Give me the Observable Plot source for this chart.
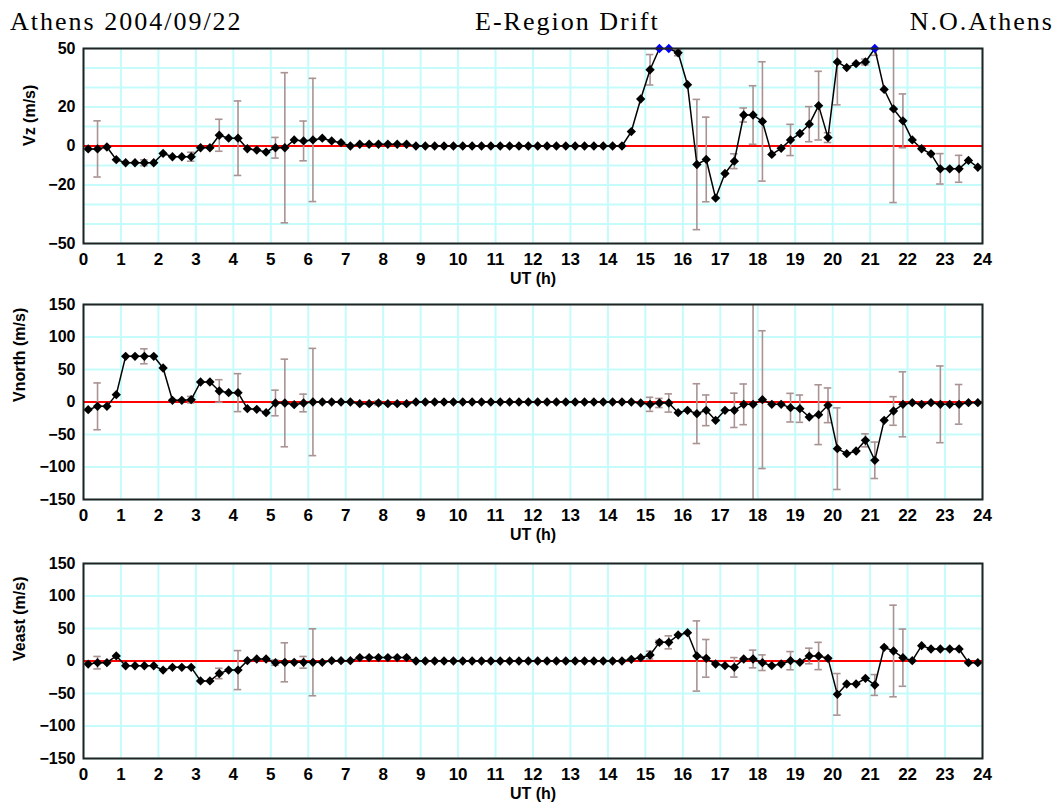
<!DOCTYPE html>
<html><head><meta charset="utf-8">
<script src="https://cdn.jsdelivr.net/npm/d3@7"></script>
<script src="https://cdn.jsdelivr.net/npm/@observablehq/plot@0.6"></script>
<style>
html,body{margin:0;padding:0;background:#fff}
body{width:1055px;height:809px;position:relative;overflow:hidden}
.t{position:absolute;top:9px;font-family:"Liberation Serif","Times New Roman",serif;font-size:26px;line-height:26px;letter-spacing:2px;color:#000;white-space:nowrap}
.p{position:absolute;left:0}
.p svg{display:block}
</style></head><body>
<div class="t" style="left:10px">Athens 2004/09/22</div>
<div class="t" style="left:475px">E-Region Drift</div>
<div class="t" style="right:1px">N.O.Athens</div>
<div id="p1" class="p" style="top:38px"></div>
<div id="p2" class="p" style="top:294px"></div>
<div id="p3" class="p" style="top:553px"></div>
<script>
// UT times of the soundings (h)
const times = [0.125,0.375,0.625,0.875,1.125,1.375,1.625,1.875,2.125,2.375,2.625,2.875,
3.125,3.375,3.625,3.875,4.125,4.375,4.625,4.875,5.125,5.375,5.625,5.875,
6.125,6.375,6.625,6.875,7.125,7.375,7.625,7.875,8.125,8.375,8.625,8.875,
9.125,9.375,9.625,9.875,10.125,10.375,10.625,10.875,11.125,11.375,11.625,11.875,
12.125,12.375,12.625,12.875,13.125,13.375,13.625,13.875,14.125,14.375,14.625,14.875,
15.125,15.375,15.625,15.875,16.125,16.375,16.625,16.875,17.125,17.375,17.625,17.875,
18.125,18.375,18.625,18.875,19.125,19.375,19.625,19.875,20.125,20.375,20.625,20.875,
21.125,21.375,21.625,21.875,22.125,22.375,22.625,22.875,23.125,23.375,23.625,23.875];

const vz = [-1.5,-1.5,-0.5,-7,-8.6,-8.6,-8.6,-8.6,-3.8,-5.5,-5.5,-5.5,
-0.9,-0.9,5.5,4,4,-1.4,-2.1,-3.1,-0.9,-0.9,3.1,2.6,
3.1,4,2.6,1.7,0,0.9,0.9,0.9,0.9,0.9,0.9,0,
0,0,0,0,0,0,0,0,0,0,0,0,
0,0,0,0,0,0,0,0,0,0,7.4,24.1,
39.1,50,50,47.8,31.4,-9.5,-6.9,-26.7,-14.1,-7.8,15.9,15.9,
12.6,-4.3,-1.2,3.1,6.4,11.2,20.7,4.3,43.1,40.2,42.2,43.1,
50,29,19,12.9,3.1,-1.4,-4,-11.7,-11.7,-11.7,-7.4,-10.9];
const vzErr = [0,14.4,0,0,0,0,1.5,0,0,0,0,2.3,
0,0,8.2,0,19.1,0,0,0,5.3,38.5,0,10.2,
31.6,0,0,0,0,0,0,0,0,0,0,0,
0,0,0,0,0,0,0,0,0,0,0,0,
0,0,0,0,0,0,0,0,0,0,0,0,
7.8,0,0,1.5,0,33.4,21.7,0,0,3.8,3.6,15,
30.6,0,0,8,0,9,17.6,2.5,22,0,0,1.5,
3.5,0,48,13.8,0,0,0,7.8,0,6.9,0,0];

const vnorth = [-11.8,-6.7,-6.7,11.3,70.3,70.3,70.3,70.3,52.3,2.6,2.6,3.6,
30.8,30.8,16.9,14.4,14.4,-10.3,-11.3,-16.4,-1.5,-1.5,-4.1,-1.5,
0,0,0,0,0,-2.6,-2.6,-1.5,-2.6,-2.6,-2.6,0,
0,0,0,0,0,0,0,0,0,0,0,0,
0,0,0,0,0,0,0,0,0,0,0,-1.5,
-3.6,-1.5,-1.5,-16.4,-12.8,-17.9,-12.8,-28.2,-12.8,-12.8,-3.6,-3.6,
3.6,-3.6,-3.6,-8.7,-10.3,-23.1,-19.5,-5.1,-71.8,-79.5,-75.4,-59,
-89.7,-28.2,-13.8,-3.6,-1,-3.6,-1,-3.6,-3.6,-3.6,-1,-1];
const vnorthErr = [0,36,0,0,0,0,11.5,0,0,0,0,5,
0,0,17.4,0,29.2,0,0,0,19.7,67.4,0,13.6,
82.5,0,0,0,0,0,0,3,0,0,0,0,
0,0,0,0,0,0,0,0,0,0,0,0,
0,0,0,0,0,0,0,0,0,0,0,0,
10.8,7,14,0,0,46,23.6,0,0,26.4,31.3,300,
106,0,0,22,21,0,46,26.7,62.8,0,0,10,
28,0,22,50,0,0,0,59,0,30.5,0,0];

const veast = [-4.7,-2.6,-2.6,7.8,-7.3,-7.3,-7.3,-7.3,-14,-9.8,-9.8,-9.8,
-30.6,-30.6,-19.2,-14,-14,0.5,3.1,3.1,-2.6,-2,-2,-2,
-2,-2,0.5,0.5,0.5,5.2,5.2,5.2,5.2,5.2,5.2,0,
0,0,0,0,0,0,0,0,0,0,0,0,
0,0,0,0,0,0,0,0,0,0,2.6,5.1,
9.2,28.7,28.7,40,43.6,7.7,4.1,-4.6,-7.2,-9.7,3.1,3.1,
-2.6,-7.2,-4.6,0.5,-2,7.7,7.7,4.1,-51.3,-35.4,-35.4,-26.7,
-36.9,21,15.4,5.1,0.5,23.6,18.5,18.5,18.5,18.5,-2.6,-2.6];
const veastErr = [0,9.6,0,0,0,0,0,0,0,0,0,0,
0,0,8,0,30,0,0,0,4,30,0,9,
51.5,0,0,0,0,0,0,0,0,0,0,0,
0,0,0,0,0,0,0,0,0,0,0,0,
0,0,0,0,0,0,0,0,0,0,0,0,
6,3,10,0,0,54,29,0,0,15,0,13.6,
12,0,0,14,0,12,21,0,32,0,0,0,
16,0,70.5,44,0,0,0,0,0,0,0,0];

const xTicks = [0,1,2,3,4,5,6,7,8,9,10,11,12,13,14,15,16,17,18,19,20,21,22,23,24];
const vzGrid = [-50,-40,-30,-20,-10,0,10,20,30,40,50];
const vzTicks = [-50,-20,0,20,50];
const hGrid = [-150,-100,-50,0,50,100,150];
const hTicks = [-150,-100,-50,0,50,100,150];

function panel(values, errs, domain, gridY, ticksY, title, titleDx, height) {
  const rows = times.map((t, i) => ({t, v: values[i], e: errs[i]}));
  const bars = rows.filter(d => d.e > 0);
  const top = domain[1];
  const errColor = "#a99393";
  return Plot.plot({
    width: 1055, height, marginLeft: 83, marginRight: 73, marginTop: 10, marginBottom: height - 205,
    style: {fontFamily: "'Liberation Sans', Arial, sans-serif", background: "transparent", overflow: "visible"},
    x: {domain: [0, 24], axis: null},
    y: {domain, axis: null},
    marks: [
      Plot.gridX(xTicks, {stroke: "#c6fbfb", strokeOpacity: 1, strokeWidth: 2}),
      Plot.gridY(gridY, {stroke: "#c6fbfb", strokeOpacity: 1, strokeWidth: 2}),
      Plot.ruleY([0], {stroke: "#ff0000", strokeWidth: 2}),
      Plot.ruleX(bars, {x: "t", y1: d => d.v - d.e, y2: d => d.v + d.e, stroke: errColor, strokeWidth: 1.6, clip: true}),
      Plot.ruleY(bars, {y: d => d.v + d.e, x1: d => d.t - 0.1, x2: d => d.t + 0.1, stroke: errColor, strokeWidth: 1.6, clip: true}),
      Plot.ruleY(bars, {y: d => d.v - d.e, x1: d => d.t - 0.1, x2: d => d.t + 0.1, stroke: errColor, strokeWidth: 1.6, clip: true}),
      Plot.line(rows, {x: "t", y: "v", stroke: "#000", strokeWidth: 1.5, clip: true}),
      Plot.dot(rows, {x: "t", y: d => Math.min(d.v, top), symbol: "diamond2", r: 4.2,
        fill: d => d.v >= top ? "#0000ff" : "#000000", stroke: "none"}),
      Plot.frame({stroke: "#222", strokeWidth: 2}),
      Plot.axisX(xTicks, {anchor: "bottom", tickSize: 0, tickPadding: 9, fontSize: 17, fontWeight: "bold", label: null, fill: "#000"}),
      Plot.axisY(ticksY, {anchor: "left", tickSize: 0, tickPadding: 8, fontSize: 16, fontWeight: "bold", label: null, fill: "#000"}),
      Plot.text(["UT (h)"], {frameAnchor: "bottom", dy: 40, fontSize: 16, fontWeight: "bold", fill: "#000"}),
      Plot.text([title], {frameAnchor: "left", dx: titleDx, rotate: -90, fontSize: 16, fontWeight: "bold", fill: "#000"})
    ]
  });
}

document.getElementById("p1").append(panel(vz, vzErr, [-50, 50], vzGrid, vzTicks, "Vz (m/s)", -54, 256));
document.getElementById("p2").append(panel(vnorth, vnorthErr, [-150, 150], hGrid, hTicks, "Vnorth (m/s)", -64, 256));
document.getElementById("p3").append(panel(veast, veastErr, [-150, 150], hGrid, hTicks, "Veast (m/s)", -64, 255));
</script>
</body></html>
